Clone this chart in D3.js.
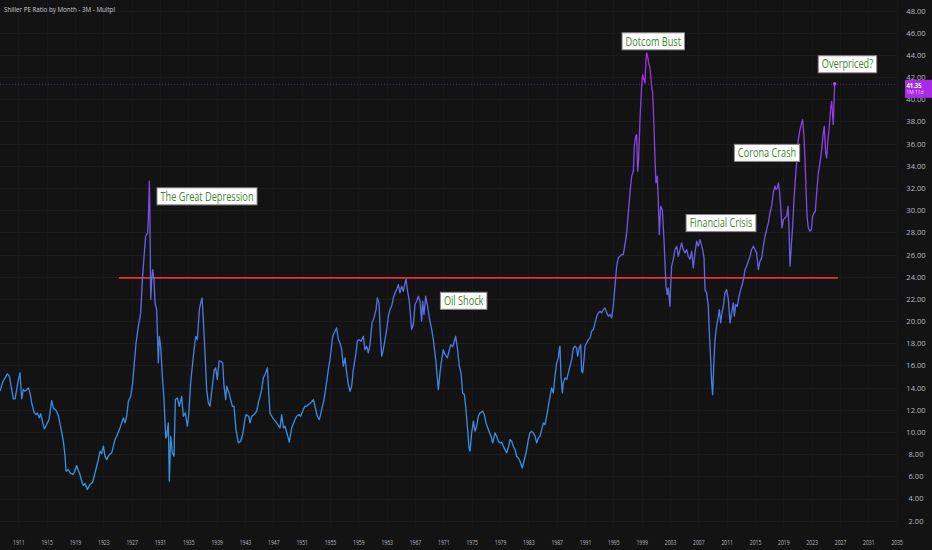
<!doctype html>
<html>
<head>
<meta charset="UTF-8">
<title>Shiller PE Ratio by Month</title>
<script src="https://cdn.jsdelivr.net/npm/d3@7"></script>
<style>
    html, body { margin: 0; padding: 0; background: #131314; }
    svg { display: block; }
</style>
</head>
<body>
<svg id="chart" width="932" height="550"></svg>
<script>
// quarterly Shiller PE (decimal year, ratio)
var years = [
 1908.42,1908.80,1909.13,1909.46,1909.74,1910.07,1910.30,1910.54,1910.77,1911.01,1911.24,1911.48,1911.71,1911.95,
 1912.42,1912.65,1912.89,1913.22,1913.50,1913.69,1913.97,1914.16,1914.44,1914.68,1915.01,1915.34,1915.71,1915.95,
 1916.32,1916.65,1916.98,1917.36,1917.60,1917.74,1918.07,1918.30,1918.68,1918.87,1919.24,1919.48,1919.71,1919.95,
 1920.18,1920.42,1920.75,1921.12,1921.50,1921.83,1922.30,1922.54,1922.77,1923.01,1923.24,1923.48,1923.71,1923.95,
 1924.18,1924.42,1924.65,1924.89,1925.27,1925.59,1925.83,1926.06,1926.30,1926.54,1926.87,1927.15,1927.38,1927.62,
 1927.95,1928.28,1928.51,1928.79,1928.98,1929.26,1929.36,1929.50,1929.59,1929.69,1929.83,1929.97,1930.16,1930.30,
 1930.53,1930.77,1930.91,1931.10,1931.34,1931.57,1931.81,1931.95,1932.18,1932.32,1932.51,1932.75,1932.98,1933.17,
 1933.45,1933.73,1934.06,1934.30,1934.58,1934.86,1935.05,1935.33,1935.71,1936.04,1936.28,1936.56,1936.75,1936.94,
 1937.12,1937.36,1937.59,1937.83,1938.06,1938.39,1938.67,1938.86,1939.10,1939.33,1939.57,1939.85,1940.04,1940.28,
 1940.42,1940.75,1940.98,1941.22,1941.45,1941.73,1942.06,1942.39,1942.67,1942.91,1943.14,1943.52,1943.71,1943.95,
 1944.27,1944.65,1944.89,1945.12,1945.36,1945.59,1945.83,1946.16,1946.30,1946.53,1946.77,1947.10,1947.47,1947.94,
 1948.18,1948.42,1948.65,1948.98,1949.26,1949.59,1950.06,1950.30,1950.63,1950.86,1951.24,1951.47,1951.71,1951.94,
 1952.27,1952.65,1952.88,1953.21,1953.50,1953.83,1954.16,1954.44,1954.77,1955.00,1955.38,1955.71,1955.94,1956.18,
 1956.41,1956.65,1956.88,1957.12,1957.36,1957.59,1957.83,1958.06,1958.30,1958.67,1958.86,1959.14,1959.38,1959.71,
 1959.94,1960.18,1960.41,1960.65,1960.93,1961.21,1961.50,1961.68,1961.92,1962.15,1962.30,1962.53,1962.77,1963.00,
 1963.24,1963.47,1963.71,1963.94,1964.18,1964.41,1964.65,1964.88,1965.12,1965.35,1965.59,1965.73,1965.92,1966.20,
 1966.53,1966.77,1967.00,1967.24,1967.47,1967.71,1967.94,1968.08,1968.27,1968.51,1968.74,1969.03,1969.36,1969.59,
 1969.92,1970.30,1970.53,1970.77,1971.00,1971.24,1971.57,1971.80,1972.04,1972.32,1972.55,1972.74,1972.98,1973.26,
 1973.50,1973.73,1973.97,1974.15,1974.39,1974.63,1974.77,1975.00,1975.24,1975.47,1975.71,1975.94,1976.18,1976.55,
 1976.79,1977.02,1977.35,1977.73,1977.97,1978.30,1978.53,1978.77,1979.00,1979.24,1979.47,1979.71,1979.94,1980.22,
 1980.41,1980.65,1980.88,1981.12,1981.35,1981.59,1981.82,1982.15,1982.44,1982.77,1983.00,1983.24,1983.47,1983.71,
 1983.94,1984.18,1984.41,1984.65,1984.88,1985.12,1985.35,1985.59,1985.82,1986.06,1986.29,1986.53,1986.76,1987.00,
 1987.24,1987.38,1987.47,1987.61,1987.80,1987.94,1988.18,1988.41,1988.65,1988.88,1989.12,1989.35,1989.59,1989.82,
 1989.96,1990.20,1990.39,1990.53,1990.67,1990.86,1991.00,1991.24,1991.47,1991.71,1991.94,1992.18,1992.41,1992.65,
 1992.88,1993.12,1993.35,1993.59,1993.82,1994.06,1994.29,1994.53,1994.76,1994.99,1995.23,1995.47,1995.70,1995.94,
 1996.17,1996.41,1996.64,1996.88,1997.11,1997.35,1997.58,1997.82,1997.96,1998.15,1998.29,1998.43,1998.57,1998.76,
 1998.99,1999.14,1999.32,1999.47,1999.61,1999.70,1999.84,1999.98,2000.17,2000.41,2000.55,2000.74,2000.88,2001.02,
 2001.21,2001.35,2001.49,2001.68,2001.91,2002.15,2002.29,2002.43,2002.62,2002.76,2002.99,2003.09,2003.23,2003.46,
 2003.70,2003.94,2004.17,2004.41,2004.64,2004.88,2005.11,2005.35,2005.58,2005.82,2006.05,2006.29,2006.52,2006.76,
 2006.99,2007.23,2007.61,2007.80,2007.94,2008.17,2008.41,2008.55,2008.74,2008.88,2009.02,2009.21,2009.35,2009.58,
 2009.82,2009.96,2010.15,2010.34,2010.53,2010.76,2010.99,2011.23,2011.47,2011.70,2011.94,2012.08,2012.27,2012.50,
 2012.74,2012.97,2013.26,2013.44,2013.58,2013.82,2014.05,2014.29,2014.52,2014.76,2014.99,2015.23,2015.47,2015.70,
 2015.94,2016.17,2016.41,2016.64,2016.88,2017.11,2017.35,2017.58,2017.82,2017.96,2018.15,2018.29,2018.43,2018.62,
 2018.81,2019.00,2019.23,2019.47,2019.65,2019.79,2019.94,2020.12,2020.31,2020.50,2020.69,2020.88,2021.11,2021.35,
 2021.58,2021.72,2021.91,2022.05,2022.20,2022.34,2022.52,2022.76,2022.95,2023.14,2023.32,2023.51,2023.70,2023.94,
 2024.17,2024.41,2024.64,2024.78,2024.97,2025.11,2025.30,2025.49,2025.68,2025.82,2025.96,2026.05,2026.15,2026.24
];
var pe = [
 13.68,14.49,14.88,15.24,15.03,13.83,12.98,12.98,13.83,14.73,15.33,12.98,13.83,13.68,
 13.98,13.53,12.62,11.78,11.57,11.72,11.27,11.66,10.88,10.28,10.67,11.12,12.83,12.17,
 11.96,11.48,10.46,9.17,7.81,6.46,6.61,6.31,6.16,6.31,6.97,6.52,6.16,5.56,
 5.17,5.35,4.81,5.26,5.47,6.31,7.51,8.26,8.05,8.72,7.81,7.51,7.81,8.02,
 8.11,8.72,9.32,9.62,10.22,10.82,11.27,10.82,11.42,12.77,13.22,14.43,16.23,18.03,
 19.54,20.74,23.74,26.15,27.65,27.95,29.15,32.61,29.15,21.94,23.74,24.65,23.74,21.64,
 21.04,16.23,18.63,17.73,15.03,12.92,9.46,9.62,10.82,5.56,9.62,8.11,7.81,12.92,
 13.07,12.32,13.22,11.42,11.72,10.52,11.42,14.43,16.83,18.63,18.33,21.04,21.64,22.09,
 20.14,17.13,13.82,12.62,12.32,14.13,15.63,15.78,14.73,16.38,16.38,16.23,14.13,12.92,
 14.13,13.52,12.92,12.32,12.32,10.22,9.01,9.16,9.77,10.82,11.57,11.42,10.82,11.42,
 11.57,11.87,12.62,13.22,13.82,14.88,15.18,15.78,14.13,11.72,11.42,11.12,10.82,10.37,
 11.57,10.37,10.52,9.77,9.08,10.37,11.12,11.42,11.57,11.42,12.02,12.32,12.32,12.47,
 12.62,12.92,12.32,11.42,11.12,12.02,12.92,14.13,15.63,16.53,18.63,19.09,19.39,18.33,
 18.03,17.43,15.93,16.68,15.33,14.28,13.67,14.13,15.63,17.13,18.18,18.33,18.18,18.63,
 17.43,17.73,17.13,17.88,19.84,20.29,21.04,22.09,21.64,18.33,16.83,17.43,18.33,19.24,
 20.44,21.04,21.34,22.09,22.54,22.84,23.29,22.54,23.14,22.69,23.44,23.80,22.84,21.79,
 19.24,19.69,21.49,21.79,22.24,21.79,19.99,21.79,20.59,22.24,21.49,20.29,19.24,18.33,
 16.53,13.82,15.33,16.53,17.43,16.98,16.68,17.28,17.88,17.67,18.18,18.63,17.58,15.93,
 15.33,13.52,13.37,12.32,10.52,8.56,8.27,9.92,10.97,10.07,10.52,11.42,11.72,11.87,
 11.57,10.82,10.22,9.62,9.02,9.92,9.62,9.17,9.02,9.08,8.72,8.41,8.11,8.72,
 9.32,9.17,8.72,8.41,7.81,7.66,7.36,6.76,7.51,8.41,9.32,9.92,10.07,9.92,
 9.62,9.02,9.47,9.62,10.22,10.82,10.67,11.42,12.32,13.22,13.97,13.52,15.03,16.23,
 16.68,17.58,17.73,15.03,13.52,14.43,14.88,14.73,15.33,15.93,16.53,17.58,17.73,17.58,
 16.83,17.58,17.88,15.48,15.33,16.53,17.73,18.03,18.33,18.48,19.09,19.24,19.84,20.44,
 20.74,20.89,20.74,21.04,21.19,20.74,20.44,20.59,20.29,21.34,23.14,24.95,25.70,25.85,
 26.00,26.00,26.90,27.95,29.75,31.56,33.06,33.51,35.77,36.67,36.82,33.51,34.56,38.17,
 41.18,42.23,41.78,41.48,43.58,44.18,43.88,43.28,42.83,41.18,40.58,37.57,34.56,32.46,
 33.06,30.66,27.80,30.36,30.06,27.35,25.25,23.14,22.39,22.99,21.34,23.14,24.95,25.55,
 26.45,26.75,25.85,26.45,27.05,26.45,26.15,26.45,25.85,25.55,26.30,24.80,26.15,27.20,
 26.75,27.35,26.45,25.70,22.84,22.54,21.34,18.93,16.53,14.43,13.37,16.53,18.33,19.53,
 20.44,21.04,19.84,20.74,21.34,22.54,22.84,21.94,19.84,20.74,21.64,20.44,21.49,21.34,
 22.24,22.84,23.44,24.04,24.65,24.95,25.40,25.85,26.45,26.75,26.45,26.15,24.65,25.40,
 25.70,26.75,27.65,28.25,28.85,29.75,30.36,31.56,32.16,31.86,32.01,32.46,31.86,30.36,
 28.40,29.15,29.30,29.45,30.36,28.55,24.95,26.75,28.55,30.96,32.76,34.26,36.37,37.27,
 37.87,38.17,36.67,34.56,31.86,29.45,28.40,28.10,28.25,29.45,29.75,29.90,31.56,33.36,
 34.26,35.47,36.97,37.57,35.17,34.71,36.37,37.57,39.22,39.82,38.47,37.72,39.67,41.39
];

var xTicks = [1911,1915,1919,1923,1927,1931,1935,1939,1943,1947,1951,1955,1959,1963,1967,1971,
              1975,1979,1983,1987,1991,1995,1999,2003,2007,2011,2015,2019,2023,2027,2031,2035];
var yTicks = [2,4,6,8,10,12,14,16,18,20,22,24,26,28,30,32,34,36,38,40,42,44,46,48];

// text notes (box centre, in year / ratio)
var noteText  = ["The Great Depression", "Oil Shock", "Dotcom Bust", "Financial Crisis", "Corona Crash", "Overpriced?"];
var noteYear  = [1937.64, 1973.87, 2000.64, 2010.20, 2016.69, 2028.05];
var noteValue = [31.25, 21.83, 45.23, 28.84, 35.17, 43.16];

// horizontal level drawn on the chart
var levelValue = 23.9;
var levelFrom = 1925.2, levelTo = 2026.7;

var lastValue = 41.35;
var lastTimer = "1M 11d";
var title = "Shiller PE Ratio by Month - 3M - Multpl";

var w = 932, h = 550, plotRight = 897;
var x = d3.scaleLinear().domain([1911, 2035]).range([18.3, 896.7]);
var y = d3.scaleLinear().domain([2, 48]).range([520.7, 10.6]);

var svg = d3.select("#chart");
svg.append("rect").attr("width", w).attr("height", h).attr("fill", "#131314");

function squeeze(sel, target) {
    // the picture's text is narrow; shrink each text by the same factor
    var k = null;
    sel.each(function(){
        var len = this.getComputedTextLength();
        if (k === null) k = target / len;
        d3.select(this).attr("textLength", len * k).attr("lengthAdjust", "spacingAndGlyphs");
    });
}

// grid
svg.append("g").selectAll("line").data(yTicks).enter().append("line")
   .attr("x1", 0).attr("x2", plotRight)
   .attr("y1", function(d){ return Math.round(y(d)) + 0.5; })
   .attr("y2", function(d){ return Math.round(y(d)) + 0.5; })
   .attr("stroke", "#1c1c1f").attr("stroke-width", 1);
svg.append("g").selectAll("line").data(xTicks).enter().append("line")
   .attr("x1", function(d){ return Math.round(x(d)) + 0.5; })
   .attr("x2", function(d){ return Math.round(x(d)) + 0.5; })
   .attr("y1", 0).attr("y2", 528)
   .attr("stroke", "#18181b").attr("stroke-width", 1);

// gradient along the value axis
var defs = svg.append("defs");
var grad = defs.append("linearGradient").attr("id", "peGrad")
   .attr("gradientUnits", "userSpaceOnUse")
   .attr("x1", 0).attr("x2", 0).attr("y1", y(4)).attr("y2", y(46));
[[4, "#2f9be0"], [14, "#3d88e2"], [22, "#5b6de2"], [32, "#7f4ae4"], [46, "#ab28e2"]].forEach(function(s){
    grad.append("stop").attr("offset", (s[0] - 4) / 42).attr("stop-color", s[1]);
});

// dotted last-price line
svg.append("line")
   .attr("x1", 0).attr("x2", plotRight)
   .attr("y1", y(lastValue)).attr("y2", y(lastValue))
   .attr("stroke", "#8a3fbf").attr("stroke-width", 1)
   .attr("stroke-dasharray", "1,2").attr("opacity", 0.55);

// level line
svg.append("line")
   .attr("x1", x(levelFrom)).attr("x2", x(levelTo))
   .attr("y1", y(levelValue)).attr("y2", y(levelValue))
   .attr("stroke", "#ec2f3d").attr("stroke-width", 1.6);

// series
var line = d3.line()
    .x(function(d, i){ return x(years[i]); })
    .y(function(d){ return y(d); });
svg.append("path").datum(pe)
   .attr("d", line)
   .attr("fill", "none")
   .attr("stroke", "url(#peGrad)")
   .attr("stroke-width", 1.3)
   .attr("stroke-linejoin", "round");

svg.append("circle")
   .attr("cx", x(years[years.length - 1])).attr("cy", y(pe[pe.length - 1]))
   .attr("r", 1.8).attr("fill", "#b340ea");

// notes
var notes = svg.append("g").selectAll("g").data(noteText).enter().append("g")
   .attr("transform", function(d, i){ return "translate(" + x(noteYear[i]) + "," + y(noteValue[i]) + ")"; });
notes.append("rect");
var noteLabels = notes.append("text")
   .attr("text-anchor", "middle").attr("dy", "0.35em")
   .style("font-family", "'Open Sans', sans-serif").style("font-size", "12px")
   .attr("fill", "#44852f")
   .text(function(d){ return d; });
squeeze(noteLabels, 93);
noteLabels.each(function(){
    var wd = +d3.select(this).attr("textLength") + 7;
    d3.select(this.parentNode).select("rect")
      .attr("x", -wd / 2).attr("y", -8.5).attr("width", wd).attr("height", 17)
      .attr("fill", "#ffffff").attr("stroke", "#8c8c8c").attr("stroke-width", 1);
});

// x axis
var xAxis = svg.append("g")
   .call(d3.axisBottom(x).tickValues(xTicks).tickFormat(d3.format("d")).tickSize(0));
xAxis.select(".domain").remove();
var xLabels = xAxis.selectAll("text")
   .attr("y", 544.5).attr("dy", null)
   .attr("fill", "#b8bac0")
   .style("font-family", "'Open Sans', sans-serif").style("font-size", "7.5px");
squeeze(xLabels, 11.5);

// y axis on the right
var yAxis = svg.append("g").attr("transform", "translate(916,0)")
   .call(d3.axisRight(y).tickValues(yTicks).tickFormat(d3.format(".2f")).tickSize(0));
yAxis.select(".domain").remove();
var yLabels = yAxis.selectAll("text")
   .attr("x", 0).attr("dy", "0.35em").attr("text-anchor", "middle")
   .attr("fill", "#b8bac0")
   .style("font-family", "'Open Sans', sans-serif").style("font-size", "7px");
squeeze(yLabels, 15);

// last value tag (sits over the 42 / 40 labels, as in the source)
var tagY = y(lastValue) - 4.5;
svg.append("rect").attr("x", 905).attr("y", tagY).attr("width", 30).attr("height", 18)
   .attr("fill", "#a82ae6");
var tag1 = svg.append("text").attr("x", 906.5).attr("y", tagY + 8)
   .attr("fill", "#ffffff").style("font-family", "'Open Sans', sans-serif")
   .style("font-size", "6.5px").style("font-weight", "bold").text(lastValue.toFixed(2));
var tag2 = svg.append("text").attr("x", 906.5).attr("y", tagY + 14.5)
   .attr("fill", "#f0dcff").style("font-family", "'Open Sans', sans-serif")
   .style("font-size", "6px").text(lastTimer);
squeeze(tag1, 15);
squeeze(tag2, 17);

// title
var t = svg.append("text").attr("x", 4).attr("y", 11.5)
   .attr("fill", "#c9cbd1").style("font-family", "'Open Sans', sans-serif")
   .style("font-size", "8px").text(title);
squeeze(t, 111);
</script>
</body>
</html>
